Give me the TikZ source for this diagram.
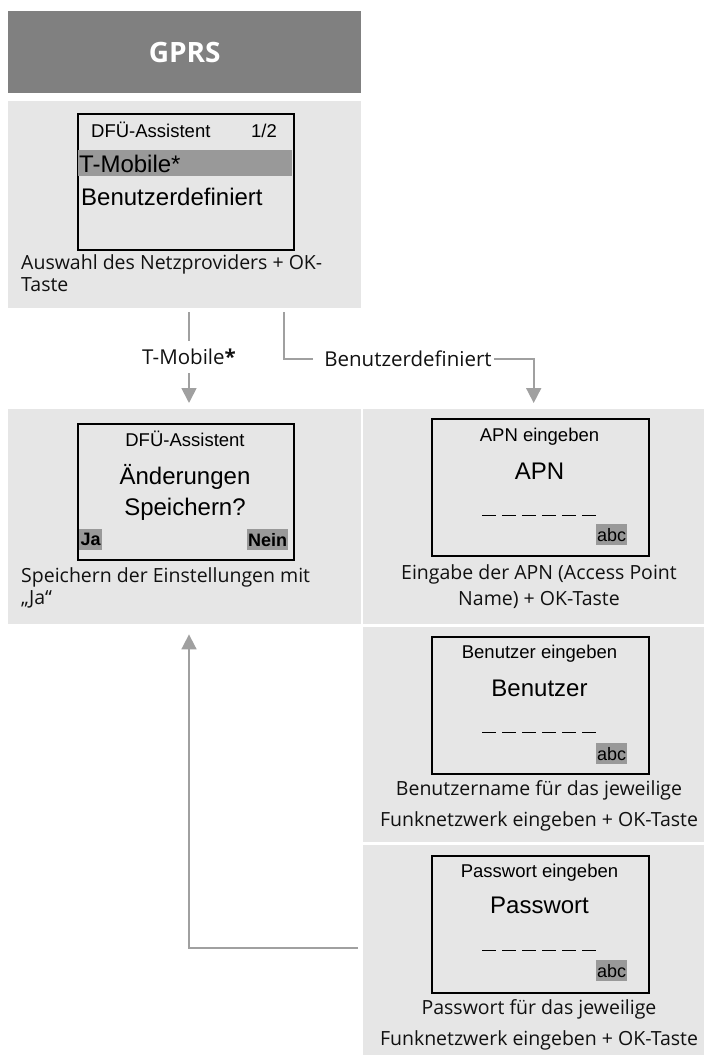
\documentclass[tikz,border=0pt]{standalone}
\usepackage{fontspec}
\setmainfont{Open Sans}
\newfontfamily\lcdfont{Liberation Sans}
\usetikzlibrary{positioning,arrows.meta}
\definecolor{bargray}{HTML}{808080}
\definecolor{panelgray}{HTML}{E6E6E6}
\definecolor{markgray}{HTML}{999999}
\definecolor{linegray}{HTML}{A0A0A0}
\definecolor{textblack}{HTML}{111111}
\tikzset{
  panel/.style={fill=panelgray, inner sep=0pt, anchor=north west},
  screen/.style={draw=black, line width=1.6bp, inner sep=0pt, anchor=north west,
    minimum width=216bp, minimum height=136bp},
  lcdsmall/.style={font=\lcdfont\fontsize{18.5bp}{20bp}\selectfont, inner sep=0pt},
  lcdbig/.style={font=\lcdfont\fontsize{24bp}{26bp}\selectfont, inner sep=0pt},
  softkey/.style={fill=markgray, inner sep=0pt, anchor=north west, minimum height=21bp,
    font=\lcdfont\bfseries\fontsize{18bp}{20bp}\selectfont},
  abc/.style={fill=markgray, inner sep=0pt, anchor=north west, minimum width=31bp,
    minimum height=21bp, font=\lcdfont\fontsize{18bp}{20bp}\selectfont},
  note/.style={font=\fontsize{19.5bp}{22bp}\selectfont, text=textblack, inner sep=0pt,
    anchor=north west, align=left},
  choice/.style={font=\fontsize{20.5bp}{22bp}\selectfont, text=textblack, inner xsep=0pt},
  conn/.style={draw=linegray, line width=1.8bp},
  arrowed/.style={-{Triangle[width=15bp,length=15bp]}},
  entry/.style={draw=black, line width=1bp, dash pattern=on 14bp off 6bp}
}
\begin{document}
\begin{tikzpicture}[x=1bp, y=-1bp]
\useasboundingbox (0,0) rectangle (704,1055);
\node[panel, fill=bargray, minimum width=353bp, minimum height=82bp, text=white,
  font=\bfseries\fontsize{28bp}{30bp}\selectfont] (gprs) at (8,11) {GPRS};

\node[panel, minimum width=353bp, minimum height=207bp] (provider) at (8,101) {};
\node[screen] (providerlcd) at (77,113) {};
\node[fill=markgray, inner sep=0pt, anchor=north west, minimum width=214bp,
  minimum height=26bp] (tmbar) at (78,150) {};
\node[lcdsmall, anchor=base west] (providertitle) at (91,137) {DFÜ-Assistent};
\node[lcdsmall, anchor=base east] (providerpage) at (277,137) {1/2};
\node[lcdbig, anchor=base west] (tmitem) at (79,172) {T-Mobile*};
\node[lcdbig, anchor=base west] (uditem) at (81,205) {Benutzerdefiniert};
\node[note] (providernote) at (21,254) {Auswahl des Netzproviders + OK-\\Taste};

\node[panel, minimum width=353bp, minimum height=215bp] (save) at (8,409) {};
\node[screen] (savelcd) at (77,423) {};
\node[lcdsmall, anchor=base] (savetitle) at (185,446) {DFÜ-Assistent};
\node[lcdbig, anchor=base] (saveask) at (185,484) {Änderungen};
\node[lcdbig, anchor=base] (saveaskb) at (185,515) {Speichern?};
\node[softkey, minimum width=23bp] (ja) at (79,529) {Ja};
\node[softkey, minimum width=41bp] (nein) at (247,529) {Nein};
\node[note] (savenote) at (21,567) {Speichern der Einstellungen mit\\„Ja“};

\node[panel, minimum width=341bp, minimum height=215bp] (apn) at (363,409) {};
\node[screen, minimum width=217bp, minimum height=137bp] (apnlcd) at (431,418) {};
\node[lcdsmall, anchor=base] (apntitle) at (539.5,441) {APN eingeben};
\node[lcdbig, anchor=base] (apnfield) at (539.5,479) {APN};
\draw[entry] (482,515) -- (596,515);
\node[abc] (apnabc) at (596,524) {abc};
\node[note, anchor=north, align=center, font=\fontsize{19.5bp}{26bp}\selectfont] (apnnote)
  at (539,564) {Eingabe der APN (Access Point\\Name) + OK-Taste};

\node[panel, minimum width=341bp, minimum height=215bp] (user) at (363,627) {};
\node[screen, minimum width=217bp, minimum height=137bp] (userlcd) at (431,636) {};
\node[lcdsmall, anchor=base] (usertitle) at (539.5,658) {Benutzer eingeben};
\node[lcdbig, anchor=base] (userfield) at (539.5,696) {Benutzer};
\draw[entry] (482,732) -- (596,732);
\node[abc] (userabc) at (596,743) {abc};
\node[note, anchor=north, align=center, font=\fontsize{19.5bp}{31bp}\selectfont] (usernote)
  at (539,780) {Benutzername für das jeweilige\\Funknetzwerk eingeben + OK-Taste};

\node[panel, minimum width=341bp, minimum height=210bp] (pass) at (363,845) {};
\node[screen, minimum width=217bp, minimum height=137bp] (passlcd) at (431,855) {};
\node[lcdsmall, anchor=base] (passtitle) at (539.5,877) {Passwort eingeben};
\node[lcdbig, anchor=base] (passfield) at (539.5,913) {Passwort};
\draw[entry] (482,950) -- (596,950);
\node[abc] (passabc) at (596,960) {abc};
\node[note, anchor=north, align=center, font=\fontsize{19.5bp}{31bp}\selectfont] (passnote)
  at (539,999) {Passwort für das jeweilige\\Funknetzwerk eingeben + OK-Taste};

\node[choice, inner ysep=8bp] (tmlabel) at (189,357) {T-Mobile\textbf{*}};
\node[choice, inner sep=0pt] (udlabel) at (408,359) {Benutzerdefiniert};
\coordinate (udstart) at (284,312);
\coordinate (back) at (358,948);
\draw[conn, shorten <=4bp] (provider.south -| tmlabel) -- (tmlabel);
\draw[conn, arrowed, shorten >=6bp] (tmlabel) -- (save.north -| tmlabel);
\draw[conn] (udstart) |- ([xshift=-11bp]udlabel.west);
\draw[conn, arrowed, shorten >=6bp] ([xshift=2bp]udlabel.east) -| (apn.north);
\draw[conn, arrowed, shorten >=10bp] (back) -| (save.south -| tmlabel);
\end{tikzpicture}
\end{document}
